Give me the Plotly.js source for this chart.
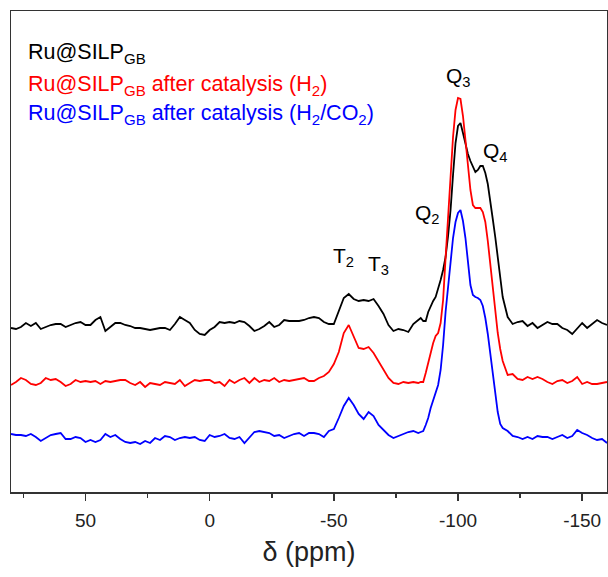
<!DOCTYPE html>
<html>
<head>
<meta charset="utf-8">
<script src="https://cdn.plot.ly/plotly-3.0.1.min.js"></script>
<style>html,body{margin:0;padding:0;background:#fff;}#chart{width:608px;height:577px;}</style>
</head>
<body>
<div id="chart"></div>
<script>
// chemical shift (ppm)
const ppm = [80,78,76,74,72,70,68,66,64,62,60,58,56,54,52,50,48,46,44,42,40,38,36,34,32,30,28,26,24,22,20,18,16,14,12,10,8,6,4,2,0,
  -2,-4,-6,-8,-10,-12,-14,-16,-18,-20,-22,-24,-26,-28,-30,-32,-34,-36,-38,-40,-42,-44,-46,-48,-50,-52,-54,-56,-58,-60,-62,-64,-66,-68,-70,-72,-74,-76,-78,-80,-82,-84,
  -85,-86,-87,-88,-89,-90,-91,-92,-93,-94,-95,-96,-97,-98,-99,-100,-101,-102,-103,-104,-105,-106,-107,-108,-109,-110,-111,-112,-113,-114,-115,-116,-117,-118,
  -120,-122,-124,-126,-128,-130,-132,-134,-136,-138,-140,-142,-144,-146,-148,-150,-152,-154,-156,-158,-160];

// Ru@SILP_GB (stacked, arbitrary intensity units)
const ruSilp = [164,163,165,169,166,169,163,165,167,168,168,165,167,169,170,167,167,172,175,161,165,169,169,167,166,164,164,163,162,163,164,164,162,168,175,172,169,162,158,157,162,
  165,170,169,170,169,171,170,166,161,163,166,170,165,167,172,171,171,171,172,174,175,174,170,168,168,182,194,198,193,191,192,191,193,186,178,167,161,163,162,160,168,172,
  174,171,171,180,186,191,195,203,212,222,235,256,282,317,349,366,369,359,347,338,331,325,320,322,326,326,319,308,292,273,255,235,212,195,
  175,168,170,171,166,169,164,167,170,168,168,164,162,158,164,169,164,168,172,169,167];

// Ru@SILP_GB after catalysis (H2)
const ruSilpH2 = [107,110,114,112,108,107,109,114,112,113,110,106,108,112,110,111,110,111,108,111,110,111,112,112,109,107,110,105,109,108,107,110,109,108,112,106,109,112,111,112,112,
  109,110,106,112,109,112,114,109,114,110,112,111,114,110,112,111,112,113,114,111,111,114,116,120,128,140,159,167,156,144,143,145,139,131,123,114,109,108,110,109,110,109,
  110,110,119,130,140,149,156,159,169,192,234,277,320,355,382,394,393,376,352,326,302,287,284,284,284,280,270,251,227,202,179,159,143,131,
  117,118,113,112,115,113,115,113,110,108,111,112,109,111,115,108,110,108,108,109,110];

// Ru@SILP_GB after catalysis (H2/CO2)
const ruSilpH2CO2 = [58,57,57,56,58,55,51,54,57,58,59,53,53,55,54,50,52,50,52,58,55,57,53,50,49,50,48,51,49,54,52,56,55,52,54,55,54,55,52,51,57,
  55,56,58,54,53,55,49,54,60,61,60,59,56,57,54,56,58,59,56,59,59,58,55,61,63,74,86,94,87,78,73,80,76,67,62,57,54,56,58,60,61,59,
  60,61,67,74,84,91,98,107,122,147,180,207,232,254,270,279,282,271,254,230,207,197,195,194,192,186,174,158,139,120,100,80,68,64,
  61,56,55,53,55,53,56,55,55,53,55,57,54,56,62,59,57,54,52,53,49];

const seriesNames = ['Ru@SILP<sub>GB</sub>', 'Ru@SILP<sub>GB</sub> after catalysis (H<sub>2</sub>)', 'Ru@SILP<sub>GB</sub> after catalysis (H<sub>2</sub>/CO<sub>2</sub>)'];
const seriesColors = ['#000000', '#ff0000', '#0000ff'];
const tickVals = [50, 0, -50, -100, -150];
const tickText = ['50', '0', '-50', '-100', '-150'];
const peakLabels = ['Q<sub>3</sub>', 'Q<sub>4</sub>', 'Q<sub>2</sub>', 'T<sub>2</sub>', 'T<sub>3</sub>'];
const peakX = [-100.3, -115, -87.6, -53.7, -68.0];
const peakY = [415, 340, 278, 235, 227];

const FONT = 'Arial, "Liberation Sans", sans-serif';
const ys = [ruSilp, ruSilpH2, ruSilpH2CO2];
const traces = ys.map((y, i) => ({
  x: ppm, y: y, type: 'scatter', mode: 'lines', name: seriesNames[i],
  line: {color: seriesColors[i], width: 1.8}, showlegend: false
}));

const legendY = [0.911, 0.846, 0.784];
const annotations = seriesNames.map((t, i) => ({
  xref: 'paper', yref: 'paper', x: 0.026, y: legendY[i], xanchor: 'left', yanchor: 'middle',
  text: t, showarrow: false, font: {family: FONT, size: 21.5, color: seriesColors[i]}
})).concat(peakLabels.map((t, i) => ({
  xref: 'x', yref: 'y', x: peakX[i], y: peakY[i], xanchor: 'center', yanchor: 'middle',
  text: t, showarrow: false, font: {family: FONT, size: 21, color: '#000'}
})));

const layout = {
  width: 608, height: 577,
  margin: {l: 11, r: 1, t: 11, b: 85},
  paper_bgcolor: '#fff', plot_bgcolor: '#fff',
  xaxis: {
    range: [80, -160], showgrid: false, zeroline: false,
    showline: true, mirror: true, linecolor: '#333', linewidth: 1.5,
    tickmode: 'array', tickvals: tickVals, ticktext: tickText,
    ticks: 'outside', ticklen: 7, tickwidth: 1.5, tickcolor: '#333',
    minor: {tickmode: 'linear', tick0: 0, dtick: 25, ticks: 'outside', ticklen: 4, tickwidth: 1.5, tickcolor: '#333'},
    tickfont: {family: FONT, size: 19, color: '#222'},
    ticklabelstandoff: 4,
    title: {text: 'δ (ppm)', font: {family: FONT, size: 27, color: '#222'}, standoff: 12},
    automargin: false
  },
  yaxis: {
    range: [0, 481], showgrid: false, zeroline: false, showticklabels: false, ticks: '',
    showline: true, mirror: true, linecolor: '#333', linewidth: 1.5, automargin: false
  },
  annotations: annotations
};

Plotly.newPlot('chart', traces, layout, {staticPlot: true, displayModeBar: false});
</script>
</body>
</html>
